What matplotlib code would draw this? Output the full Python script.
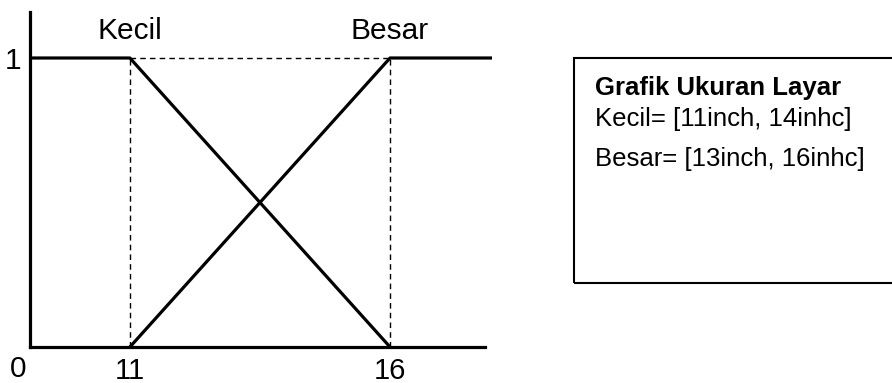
import matplotlib
matplotlib.use("Agg")
import matplotlib.pyplot as plt
from matplotlib.patches import Rectangle

# Data
x_start = 9.08
x_end = 17.96
kecil_x = [x_start, 11, 16]
kecil_y = [1, 1, 0]
besar_x = [11, 16, x_end]
besar_y = [0, 1, 1]
tick_vals = [11, 16]
tick_labels = ["11", "16"]
set_labels = ["Kecil", "Besar"]
set_label_x = [11, 16]
box_title = "Grafik Ukuran Layar"
box_lines = ["Kecil= [11inch, 14inhc]", "Besar= [13inch, 16inhc]"]

plt.rcParams['font.family'] = ['Liberation Sans', 'DejaVu Sans']

W, H = 892, 383
fig = plt.figure(figsize=(W / 100, H / 100), dpi=100)

left_px, right_px = 30, 492
bot_px, top_px = 347, 12
ax = fig.add_axes([left_px / W, (H - bot_px) / H, (right_px - left_px) / W, (bot_px - top_px) / H])
ax.set_xlim(x_start, x_end)
ymax = 1 + (58 - top_px) / (bot_px - 58)
ax.set_ylim(0, ymax)
ax.patch.set_alpha(0)

for s in ["top", "right"]:
    ax.spines[s].set_visible(False)
ax.spines["left"].set_linewidth(2.3)
ax.spines["bottom"].set_linewidth(2.3)
ax.spines["bottom"].set_bounds(x_start, 17.83)
ax.spines["left"].set_capstyle("projecting")

lw = 2.3
ax.plot(kecil_x, kecil_y, color="black", lw=lw, solid_capstyle="butt", clip_on=False)
ax.plot(besar_x, besar_y, color="black", lw=lw, solid_capstyle="butt", clip_on=False)

dash = dict(color="black", lw=1.0, linestyle=(0, (4, 3)))
ax.plot([11, 11], [0, 1], **dash)
ax.plot([16, 16], [0, 1], **dash)
ax.plot([11, 16], [1, 1], **dash)

ax.set_xticks(tick_vals)
ax.set_xticklabels(tick_labels, fontsize=21)
ax.set_yticks([1])
ax.set_yticklabels(["1"], fontsize=21.5)
ax.tick_params(axis="x", length=0, pad=7)
ax.tick_params(axis="y", length=0, pad=6)
ax.text(-0.025, -0.025, "0", transform=ax.transAxes, fontsize=21.5, ha="center", va="top")

for lab, xv in zip(set_labels, set_label_x):
    ax.text(xv, 1.045, lab, fontsize=21.5, ha="center", va="bottom")

# Info box
fig.patches.append(Rectangle((574 / W, (H - 283) / H), 0.5, 225 / H, transform=fig.transFigure,
                             fill=False, edgecolor="black", lw=1.5))
fig.text(595 / W, (H - 95) / H, box_title, fontsize=18.5, fontweight="bold", va="baseline")
fig.text(595 / W, (H - 126) / H, box_lines[0], fontsize=18.5, va="baseline")
fig.text(595 / W, (H - 166) / H, box_lines[1], fontsize=18.5, va="baseline")

fig.savefig("out.png", dpi=100, facecolor="white")
